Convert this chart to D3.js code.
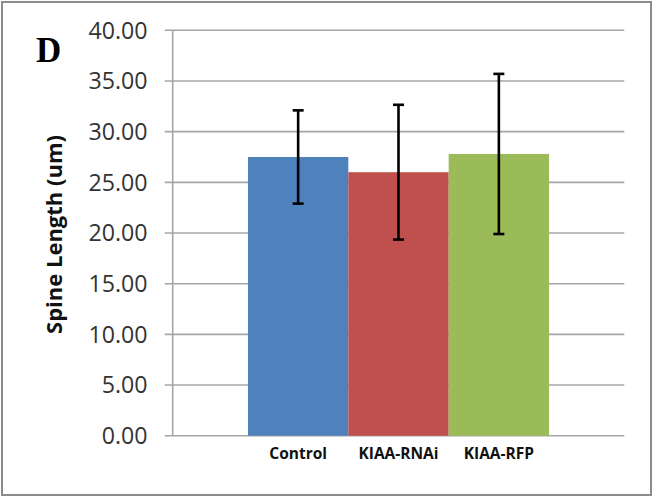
<!DOCTYPE html>
<html><head><meta charset="utf-8">
<script src="https://cdn.jsdelivr.net/npm/d3@7"></script>
<style>html,body{margin:0;padding:0;background:#fff;}svg{display:block;}</style>
</head><body>
<script>
const categories = ["Control", "KIAA-RNAi", "KIAA-RFP"];
const means = [27.5, 26.0, 27.8];
const errors = [4.6, 6.65, 7.9];
const colors = ["#4F81BD", "#C0504D", "#9BBB59"];
const yTicks = [0, 5, 10, 15, 20, 25, 30, 35, 40];
const yLabel = "Spine Length (um)";
const panel = "D";

(function () {
const W = 653, H = 497;
const svg = d3.select("body").append("svg").attr("width", W).attr("height", H);

svg.append("rect").attr("x", 2).attr("y", 2).attr("width", W - 4).attr("height", H - 4)
  .attr("fill", "#fff").attr("stroke", "#8c8c8c").attr("stroke-width", 2);

const pLeft = 172.7, pRight = 624.3, pTop = 30.3, pBottom = 435.7;
const y = d3.scaleLinear().domain([0, 40]).range([pBottom, pTop]);
const plotW = pRight - pLeft;
const inset = plotW * 0.75 / 4.5;
const x = d3.scaleBand().domain(categories).range([pLeft + inset, pRight - inset]).padding(0);

// gridlines
svg.append("g").selectAll("line").data(yTicks).join("line")
  .attr("x1", pLeft - 8).attr("x2", pRight)
  .attr("y1", d => y(d)).attr("y2", d => y(d))
  .attr("stroke", "#a6a6a6").attr("stroke-width", 1.6);

// axis line
svg.append("line").attr("x1", pLeft).attr("x2", pLeft).attr("y1", pTop).attr("y2", pBottom)
  .attr("stroke", "#a6a6a6").attr("stroke-width", 1.6);

// tick labels
svg.append("g").selectAll("text").data(yTicks).join("text")
  .attr("x", 147.5).attr("y", d => y(d)).attr("dy", "0.357em")
  .attr("text-anchor", "end")
  .attr("font-family", "'Open Sans', sans-serif").attr("font-size", 23.2)
  .attr("fill", "#333")
  .text(d => d.toFixed(2));

// bars
svg.append("g").selectAll("rect").data(categories).join("rect")
  .attr("x", d => x(d)).attr("width", x.bandwidth())
  .attr("y", (d, i) => y(means[i])).attr("height", (d, i) => y(0) - y(means[i]))
  .attr("fill", (d, i) => colors[i]);

// error bars
const eb = svg.append("g").attr("stroke", "#000").attr("stroke-width", 2.6);
categories.forEach((c, i) => {
  const cx = x(c) + x.bandwidth() / 2;
  const hi = y(means[i] + errors[i]), lo = y(means[i] - errors[i]);
  eb.append("line").attr("x1", cx).attr("x2", cx).attr("y1", hi).attr("y2", lo);
  eb.append("line").attr("x1", cx - 5.5).attr("x2", cx + 5.5).attr("y1", hi).attr("y2", hi);
  eb.append("line").attr("x1", cx - 5.5).attr("x2", cx + 5.5).attr("y1", lo).attr("y2", lo);
});

// category labels
svg.append("g").selectAll("text").data(categories).join("text")
  .attr("x", d => x(d) + x.bandwidth() / 2).attr("y", 458.5)
  .attr("text-anchor", "middle")
  .attr("font-family", "'Open Sans', sans-serif").attr("font-weight", "bold").attr("font-size", 15.5)
  .attr("fill", "#111")
  .text(d => d);

// y label
svg.append("text")
  .attr("transform", "translate(62,234.5) rotate(-90)")
  .attr("text-anchor", "middle")
  .attr("font-family", "'Open Sans', sans-serif").attr("font-weight", "bold").attr("font-size", 22)
  .attr("fill", "#111")
  .text(yLabel);

// panel letter
svg.append("text").attr("x", 36).attr("y", 62)
  .attr("font-family", "'Liberation Serif', serif").attr("font-weight", "bold").attr("font-size", 35)
  .attr("fill", "#000")
  .text(panel);
})();
</script>
</body></html>
